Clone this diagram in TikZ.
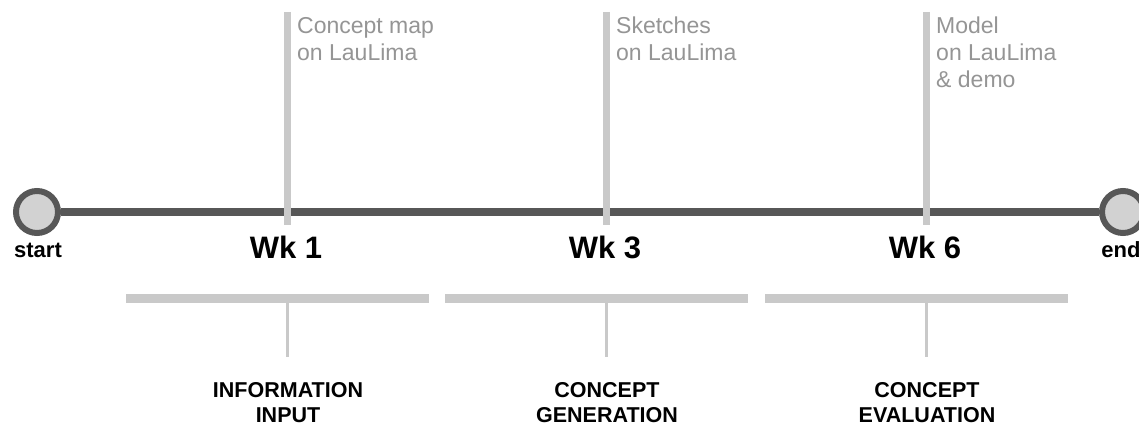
\documentclass[tikz,border=0pt]{standalone}
\usepackage{fontspec}
\setmainfont{Liberation Sans}
\usetikzlibrary{positioning}

\definecolor{trackgray}{HTML}{575757}
\definecolor{dotgray}{HTML}{D2D2D2}
\definecolor{markgray}{HTML}{C9C9C9}
\definecolor{notegray}{HTML}{959595}

\begin{document}
\begin{tikzpicture}[x=1pt,y=-1pt,
  endpt/.style={circle,draw=trackgray,fill=dotgray,line width=6pt,minimum size=42pt,inner sep=0pt},
  endlabel/.style={anchor=base,inner sep=0pt,font=\fontsize{22}{26}\selectfont\bfseries},
  track/.style={draw=trackgray,line width=8pt},
  milestone/.style={draw=markgray,line width=7pt},
  phasebar/.style={draw=markgray,line width=9pt},
  phasetick/.style={draw=markgray,line width=3pt},
  notetext/.style={anchor=north west,inner sep=0pt,align=left,text=notegray,font=\fontsize{23}{27}\selectfont},
  weektext/.style={anchor=base,inner sep=0pt,font=\fontsize{31}{36}\selectfont\bfseries},
  phasetext/.style={anchor=north,inner sep=0pt,align=center,font=\fontsize{21.5}{25}\selectfont\bfseries}]
  \useasboundingbox[fill=white] (0,0) rectangle (1139,428);
  \node[endpt] (start) at (37,212) {};
  \node[endpt] (end) at (1123,212) {};
  \draw[track] (start) -- (end);
  \node[endlabel] (startlabel) at (38,257) {start};
  \node[endlabel] (endlabel) at (1121,257) {end};
  \foreach \x/\wk/\note/\phase in {287/1/{Concept map\\on LauLima}/{INFORMATION\\INPUT},
      606/3/{Sketches\\on LauLima}/{CONCEPT\\GENERATION},
      926/6/{Model\\on LauLima\\\& demo}/{CONCEPT\\EVALUATION}} {
    \coordinate (top\wk) at (\x,12);
    \coordinate (cross\wk) at (\x,225);
    \draw[milestone] (top\wk) -- (cross\wk);
    \node[notetext] (note\wk) at (\x+10,17) {\note};
    \node[weektext] (week\wk) at (\x-1,258) {Wk \wk};
    \coordinate (barleft\wk) at (\x-161,298);
    \coordinate (barright\wk) at (\x+142,298);
    \coordinate (barmid\wk) at (\x,298);
    \coordinate (tickend\wk) at (\x,357);
    \draw[phasebar] (barleft\wk) -- (barright\wk);
    \draw[phasetick] (barmid\wk) -- (tickend\wk);
    \node[phasetext] (phase\wk) at (\x+1,382) {\phase};
  }
\end{tikzpicture}
\end{document}
